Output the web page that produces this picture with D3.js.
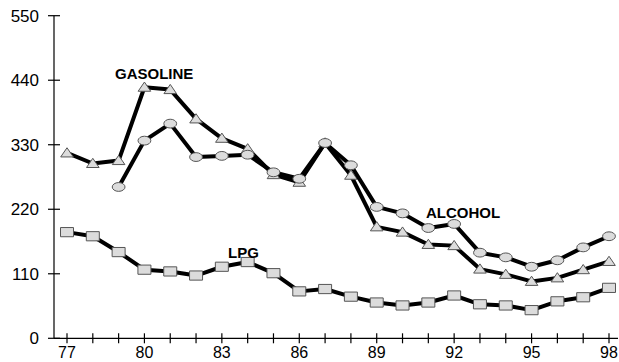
<!DOCTYPE html>
<html>
<head>
<meta charset="utf-8">
<script src="https://cdn.jsdelivr.net/npm/d3@7"></script>
<style>
  html, body { margin: 0; padding: 0; background: #fff; }
  svg { display: block; font-family: Arial, "Liberation Sans", Helvetica, sans-serif; }
</style>
</head>
<body>
<svg id="chart" width="619" height="362"></svg>
<script>
// Fuel price index by year (1977-1998)
const years = d3.range(77, 99);
const gasoline = [316, 298, 303, 428, 424, 374, 341, 323, 279, 266, 333, 278, 190, 181, 160, 158, 118, 109, 97, 103, 117, 131];
const alcoholYears = d3.range(79, 99);
const alcohol = [258, 337, 366, 309, 311, 313, 283, 272, 333, 295, 224, 213, 188, 195, 146, 138, 122, 133, 155, 174];
const lpg = [181, 174, 147, 117, 114, 107, 122, 130, 111, 80, 84, 71, 61, 56, 61, 73, 58, 56, 48, 63, 70, 86];
const yTicks = [0, 110, 220, 330, 440, 550];
const xTickLabels = [77, 80, 83, 86, 89, 92, 95, 98];

const svg = d3.select("#chart");

const x = d3.scaleLinear().domain([77, 98]).range([67, 609]);
const y = d3.scaleLinear().domain([0, 550]).range([338.3, 15.7]);

// Axes
const axisX = 54;
const axisY = y(0);

svg.append("line")
  .attr("x1", axisX).attr("x2", axisX)
  .attr("y1", y(550)).attr("y2", axisY)
  .attr("stroke", "#000").attr("stroke-width", 1.2);
svg.append("line")
  .attr("x1", axisX).attr("x2", 618)
  .attr("y1", axisY).attr("y2", axisY)
  .attr("stroke", "#000").attr("stroke-width", 1.2);

// Y ticks and labels
svg.selectAll(".ytick").data(yTicks).join("line")
  .attr("x1", axisX - 6).attr("x2", axisX + 6)
  .attr("y1", d => y(d)).attr("y2", d => y(d))
  .attr("stroke", "#000").attr("stroke-width", 1.2);
svg.selectAll(".ylabel").data(yTicks).join("text")
  .attr("x", 39).attr("y", d => y(d) + 6)
  .attr("text-anchor", "end")
  .attr("font-size", 17)
  .attr("fill", "#000")
  .text(d => d);

// X ticks (every year) and labels (every third year)
svg.selectAll(".xtick").data(years).join("line")
  .attr("x1", d => x(d)).attr("x2", d => x(d))
  .attr("y1", axisY - 5).attr("y2", axisY + 5)
  .attr("stroke", "#000").attr("stroke-width", 1.2);
svg.selectAll(".xlabel").data(xTickLabels).join("text")
  .attr("x", d => x(d)).attr("y", 358)
  .attr("text-anchor", "middle")
  .attr("font-size", 16)
  .attr("fill", "#000")
  .text(d => d);

const line = d3.line().x(d => x(d[0])).y(d => y(d[1]));

function drawSeries(xs, vals, shape) {
  const pts = xs.map((yr, i) => [yr, vals[i]]);
  const g = svg.append("g");
  g.append("path")
    .attr("d", line(pts))
    .attr("fill", "none")
    .attr("stroke", "#000")
    .attr("stroke-width", 4)
    .attr("stroke-linejoin", "round");
  const m = g.selectAll(".m").data(pts).join(shape === "circle" ? "ellipse" : "path")
    .attr("fill", "#dcdcdc")
    .attr("stroke", "#555")
    .attr("stroke-width", 1);
  if (shape === "circle") {
    m.attr("cx", d => x(d[0])).attr("cy", d => y(d[1])).attr("rx", 6.4).attr("ry", 4.4);
  } else if (shape === "square") {
    m.attr("d", d => {
      const cx = x(d[0]), cy = y(d[1]);
      return `M${cx - 6.5},${cy - 4.6}h13v9.2h-13Z`;
    });
  } else {
    m.attr("d", d => {
      const cx = x(d[0]), cy = y(d[1]);
      return `M${cx},${cy - 5.2}L${cx + 6.3},${cy + 4}L${cx - 6.3},${cy + 4}Z`;
    });
  }
}

drawSeries(years, lpg, "square");
drawSeries(years, gasoline, "triangle");
drawSeries(alcoholYears, alcohol, "circle");

// Series labels
const labels = [
  { text: "GASOLINE", x: 115, y: 79 },
  { text: "ALCOHOL", x: 426, y: 218 },
  { text: "LPG", x: 228, y: 258 }
];
svg.selectAll(".slabel").data(labels).join("text")
  .attr("x", d => d.x).attr("y", d => d.y)
  .attr("font-size", 15)
  .attr("font-weight", "bold")
  .attr("fill", "#000")
  .text(d => d.text);
</script>
</body>
</html>
